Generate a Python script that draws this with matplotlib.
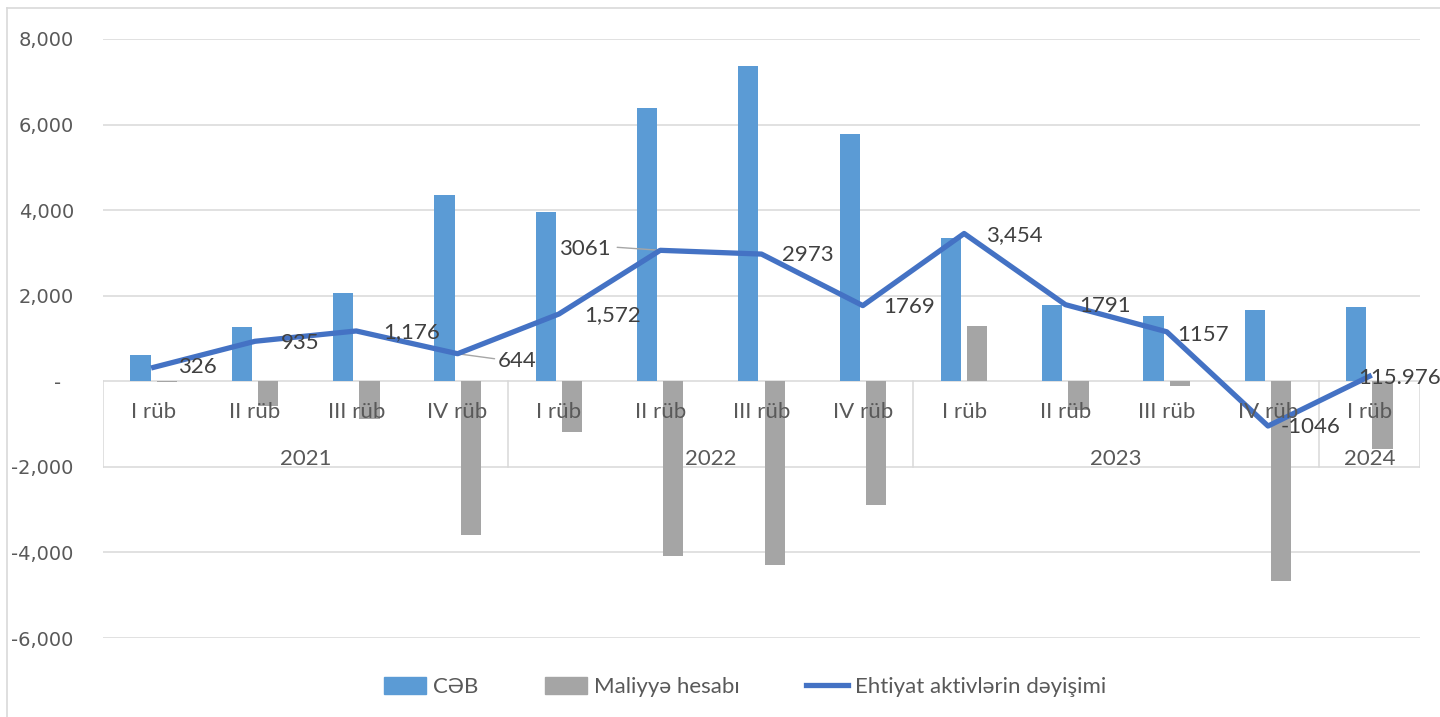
import matplotlib.pyplot as plt
from matplotlib.lines import Line2D
from matplotlib.patches import Patch
import numpy as np

# quarterly data, 2021 Q1 - 2024 Q1
quarters = ["I rüb", "II rüb", "III rüb", "IV rüb",
            "I rüb", "II rüb", "III rüb", "IV rüb",
            "I rüb", "II rüb", "III rüb", "IV rüb",
            "I rüb"]
years = ["2021", "2022", "2023", "2024"]
year_sizes = [4, 4, 4, 1]

ceb = [620, 1260, 2060, 4350, 3960, 6380, 7380, 5770, 3360, 1780, 1520, 1660, 1730]
maliyye = [-20, -580, -870, -3600, -1180, -4090, -4300, -2900, 1300, -680, -110, -4670, -1580]
ehtiyat = [326, 935, 1176, 644, 1572, 3061, 2973, 1769, 3454, 1791, 1157, -1046, 115.976]
ehtiyat_labels = ["326", "935", "1,176", "644", "1,572", "3061", "2973", "1769",
                  "3,454", "1791", "1157", "-1046", "115.976"]

# label offsets in pixels (dx, dy) from each line point
label_offsets = [(44, 0), (45, -2), (55, -1), (60, -7), (54, -1), (-75, 1), (46, -1),
                 (46, -1), (50, -2), (40, -1), (36, -3), (43, -1), (30, -2)]
# leader line ends (pixels from the point), None if no leader
leaders = [None, None, None, (37, -5), None, (-43, 3), None, None, None, None, None, None, None]

blue = "#5B9BD5"
gray = "#A5A5A5"
line_col = "#4472C4"
txt = "#404040"
grid_col = "#D9D9D9"

fig = plt.figure(figsize=(14.4, 7.17), dpi=100)
ax = fig.add_axes([103 / 1440, 1 - 638 / 717, (1420 - 103) / 1440, (638 - 39) / 717])

x = np.arange(len(quarters))
w = 0.2
ax.bar(x - 0.13, ceb, w, color=blue, zorder=2)
ax.bar(x + 0.13, maliyye, w, color=gray, zorder=2)
ax.plot(x, ehtiyat, color=line_col, lw=3.8, zorder=3)

ax.set_xlim(-0.5, len(quarters) - 0.5)
ax.set_ylim(-6000, 8000)
yt = np.arange(-6000, 8001, 2000)
ax.set_yticks(yt)
ax.set_yticklabels(["-  " if v == 0 else f"{v:,}" for v in yt],
                   fontsize=14, color="#595959", family="DejaVu Sans")
ax.tick_params(axis="y", length=0, pad=21)
ax.set_xticks([])
for s in ax.spines.values():
    s.set_visible(False)
for v in yt:
    ax.axhline(v, color=grid_col, lw=1.1, zorder=0)

# multi-level category axis
bounds = np.concatenate([[0], np.cumsum(year_sizes)]) - 0.5
for b in bounds:
    ax.plot([b, b], [0, -2000], color=grid_col, lw=1.1, zorder=0)
for i, q in enumerate(quarters):
    ax.annotate(q, xy=(i, 0), xytext=(0, -31), textcoords="offset pixels",
                ha="center", va="center", fontsize=16, color="#595959",
                family="Lato", zorder=5)
for k, yr in enumerate(years):
    cx = (bounds[k] + bounds[k + 1]) / 2
    ax.annotate(yr, xy=(cx, 0), xytext=(0, -78), textcoords="offset pixels",
                ha="center", va="center", fontsize=16, color="#595959",
                family="Lato", zorder=5)

# data labels on the line
for i, (v, lab) in enumerate(zip(ehtiyat, ehtiyat_labels)):
    dx, dy = label_offsets[i]
    ax.annotate(lab, xy=(i, v), xytext=(dx, dy), textcoords="offset pixels",
                ha="center", va="center", fontsize=16, color=txt,
                family="Lato", zorder=6)
    if leaders[i] is not None:
        ax.annotate("", xy=(i, v), xytext=leaders[i], textcoords="offset pixels",
                    arrowprops=dict(arrowstyle="-", color="#A6A6A6", lw=1.0,
                                    shrinkA=0, shrinkB=0,
                                    connectionstyle="arc3,rad=0"),
                    zorder=2.5)

handles = [Patch(color=blue), Patch(color=gray),
           Line2D([0], [0], color=line_col, lw=3.8)]
fig.legend(handles, ["CƏB", "Maliyyə hesabı", "Ehtiyat aktivlərin dəyişimi"],
           loc="center", bbox_to_anchor=(745 / 1440, 1 - 687 / 717), ncol=3,
           frameon=False, prop={"family": "Lato", "size": 16},
           labelcolor="#595959", handlelength=1.9, handleheight=0.8,
           columnspacing=3.0, handletextpad=0.3)

# chart area border
fig.add_artist(Line2D([7 / 1440, 7 / 1440], [0, 1 - 8 / 717], color=grid_col, lw=1.2))
fig.add_artist(Line2D([7 / 1440, 1], [1 - 8 / 717, 1 - 8 / 717], color=grid_col, lw=1.2))

fig.savefig("out.png", dpi=100, facecolor="white")
